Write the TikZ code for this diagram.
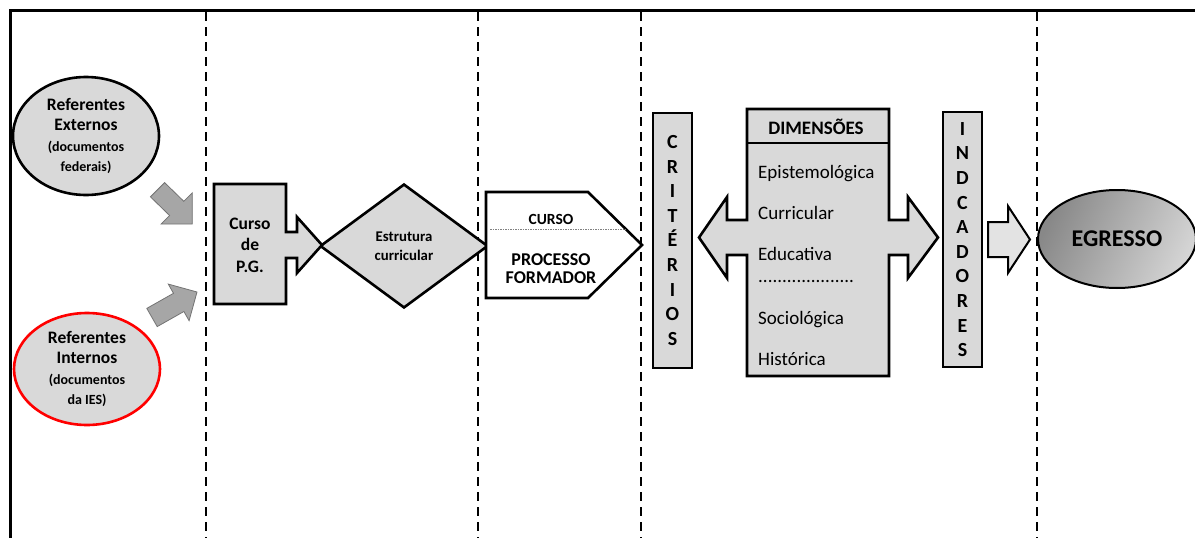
\documentclass[tikz,border=0pt]{standalone}
\usepackage{fontspec}
\setmainfont{Carlito}
\usetikzlibrary{shapes.geometric}
\definecolor{boxgray}{HTML}{D9D9D9}
\definecolor{arrowgray}{HTML}{A6A6A6}
\definecolor{egrdark}{HTML}{888888}
\definecolor{egrlight}{HTML}{D4D4D4}
\newcommand{\reftxt}[1]{{\fontsize{14}{19}\selectfont #1}}

\begin{document}
\begin{tikzpicture}[x=1pt,y=-1pt,
    thickline/.style={line width=2.6pt,line join=miter},
    divider/.style={line width=2pt,dash pattern=on 9pt off 6pt},
    refellipse/.style={ellipse,draw,thickline,fill=boxgray,minimum width=146pt,inner sep=0pt,
      align=center,font=\bfseries\fontsize{17.5}{20.5}\selectfont},
    sidearrow/.style={draw=black!55,fill=arrowgray,line width=0.8pt,line join=miter},
    letterbar/.style={rectangle,draw,thickline,fill=boxgray,minimum width=39pt,minimum height=255pt,
      inner sep=0pt,align=center,font=\bfseries\fontsize{20}{24.6}\selectfont},
    dimitem/.style={anchor=base west,inner sep=0pt,font=\fontsize{19}{20}\selectfont}]
\useasboundingbox (0,0) rectangle (1195,538);

% moldura e divisores
\draw[line width=3pt] (10,538) -- (10,10) -- (1195,10);
\foreach \xd in {206,478,641,1037}
  \draw[divider] (\xd,12) -- (\xd,538);

% referentes
\node[refellipse,minimum height=118pt] (refext) at (86,136)
  {Referentes\\Externos\\\reftxt{(documentos}\\\reftxt{federais)}};
\node[refellipse,draw=red,minimum height=112pt] (refint) at (87,369)
  {Referentes\\Internos\\\reftxt{(documentos}\\\reftxt{da IES)}};
\draw[sidearrow] (164.6,182.6) -- (183.8,201.3) -- (192.3,192.8) -- (192.3,224) -- (161.1,224)
  -- (169.6,215.5) -- (150.4,196.8) -- cycle;
\draw[sidearrow] (146.8,308.4) -- (173.5,293.3) -- (168.3,284.1) -- (197,292) -- (189.1,320.7)
  -- (183.9,311.5) -- (157.2,326.6) -- cycle;

% curso de P.G. e estrutura
\node[diamond,draw,thickline,fill=boxgray,minimum width=168pt,minimum height=124pt,inner sep=0pt,
  align=center,font=\bfseries\fontsize{14.8}{19}\selectfont] (estr) at (404,246) {Estrutura\\curricular};
\draw[thickline,fill=boxgray] (214,184) -- (286,184) -- (286,232) -- (297,232) -- (297,217)
  -- (322,245) -- (297,273) -- (297,258) -- (286,258) -- (286,304) -- (214,304) -- cycle;
\node[align=center,font=\bfseries\fontsize{17.5}{21.5}\selectfont] (cursopg) at (250,245) {Curso\\de\\P.G.};

% processo formador
\draw[thickline,fill=white] (486,192) -- (588,192) -- (642,245) -- (588,298) -- (486,298) -- cycle;
\draw[gray,line width=0.8pt,dash pattern=on 1.5pt off 1pt] (490,229) -- (626,229);
\node[font=\bfseries\fontsize{15.5}{18}\selectfont] (curso) at (551,219) {CURSO};
\node[align=center,font=\bfseries\fontsize{18}{18.5}\selectfont] (proc) at (551,268.5) {PROCESSO\\FORMADOR};

% criterios
\node[letterbar] (crit) at (672.5,240.5) {C\\R\\I\\T\\É\\R\\I\\O\\S};

% dimensoes
\draw[thickline,fill=boxgray] (747,109) -- (889,109) -- (889,220) -- (908,220) -- (908,197)
  -- (938,237.5) -- (908,278) -- (908,255) -- (889,255) -- (889,376) -- (747,376) -- (747,255)
  -- (727,255) -- (727,278) -- (699,237.5) -- (727,197) -- (727,220) -- (747,220) -- cycle;
\draw[thickline] (747,143) -- (889,143);
\node[font=\bfseries\fontsize{19}{20}\selectfont] (dimtit) at (816,127) {DIMENSÕES};
\node[dimitem] (dim1) at (758,178) {Epistemológica};
\node[dimitem] (dim2) at (758,219) {Curricular};
\node[dimitem] (dim3) at (758,260) {Educativa};
\node[dimitem] (dim4) at (758,282) {....................};
\node[dimitem] (dim5) at (758,324) {Sociológica};
\node[dimitem] (dim6) at (758,365) {Histórica};

% indicadores
\node[letterbar] (indic) at (962.5,239.5) {I\\N\\D\\C\\A\\D\\O\\R\\E\\S};

% egresso
\draw[line width=2pt,line join=miter,fill=black!11] (988,222) -- (1008,222)
  -- (1008,206) -- (1030,239.5) -- (1008,273) -- (1008,257) -- (988,257) -- cycle;
\node[ellipse,draw,line width=2pt,minimum width=158pt,minimum height=98pt,
  left color=egrdark,right color=egrlight,shading angle=65,
  font=\bfseries\fontsize{24}{26}\selectfont] (egr) at (1117,239) {EGRESSO};
\end{tikzpicture}
\end{document}
